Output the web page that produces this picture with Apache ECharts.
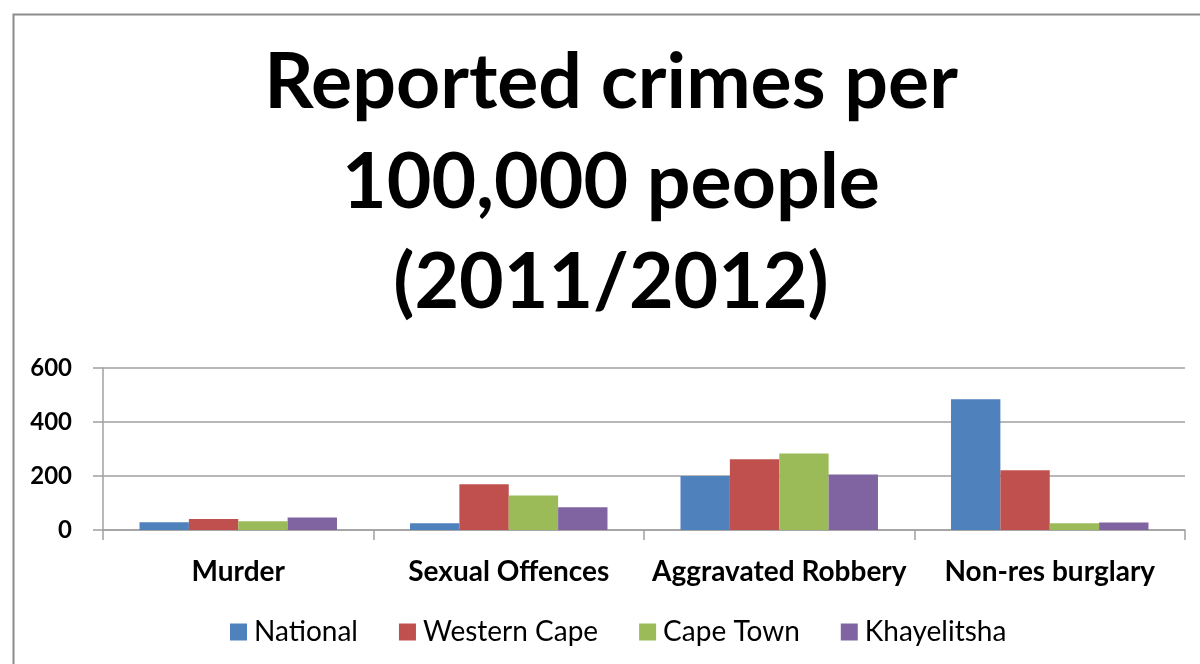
<!DOCTYPE html>
<html>
<head>
<meta charset="utf-8">
<script src="https://cdn.jsdelivr.net/npm/echarts@6/dist/echarts.min.js"></script>
<style>
html,body{margin:0;padding:0;background:#fff;}
#chart{width:1200px;height:664px;}
</style>
</head>
<body>
<div id="chart"></div>
<script>
const categories = ['Murder', 'Sexual Offences', 'Aggravated Robbery', 'Non-res burglary'];
const seriesNames = ['National', 'Western Cape', 'Cape Town', 'Khayelitsha'];
const national = [29, 25, 200, 484];
const westernCape = [41, 169, 262, 221];
const capeTown = [32, 128, 283, 25];
const khayelitsha = [46, 84, 206, 28];
const yTicks = [0, 200, 400, 600];

const colors = ['#4F81BD', '#C0504D', '#9BBB59', '#8064A2'];
const values = [national, westernCape, capeTown, khayelitsha];
const FONT = 'Lato';

const chart = echarts.init(document.getElementById('chart'));
chart.setOption({
  animation: false,
  backgroundColor: '#fff',
  graphic: [{
    type: 'rect', left: 11, top: 12,
    shape: {width: 1300, height: 700},
    style: {fill: 'none', stroke: '#8C8C8C', lineWidth: 2},
    silent: true, z: -10
  }],
  title: {
    text: 'Reported crimes per\n100,000 people\n(2011/2012)',
    left: 606, top: 28, textAlign: 'center',
    textStyle: {fontFamily: FONT, fontWeight: 'bold', fontSize: 77, lineHeight: 100, color: '#000'}
  },
  legend: {
    data: seriesNames,
    left: 225, top: 613,
    itemWidth: 17, itemHeight: 17, itemGap: 41,
    icon: 'rect',
    textStyle: {fontFamily: FONT, fontSize: 28, color: '#000', padding: [0, 0, 0, 2]}
  },
  grid: {left: 103, right: 15, top: 368, bottom: 134, containLabel: false},
  xAxis: {
    type: 'category', data: categories,
    axisLine: {show: true, lineStyle: {color: '#A0A0A0', width: 1.5}},
    axisTick: {show: true, length: 10, lineStyle: {color: '#A0A0A0', width: 1.5}},
    axisLabel: {fontFamily: FONT, fontWeight: 'bold', fontSize: 28, color: '#000', margin: 28, interval: 0}
  },
  yAxis: {
    type: 'value', min: 0, max: 600, interval: 200,
    axisLine: {show: true, lineStyle: {color: '#A0A0A0', width: 1.5}},
    axisTick: {show: true, length: 10, lineStyle: {color: '#A0A0A0', width: 1.5}},
    splitLine: {show: true, lineStyle: {color: '#A0A0A0', width: 1.5}},
    axisLabel: {fontFamily: FONT, fontWeight: 'bold', fontSize: 24, color: '#000', margin: 31,
      formatter: v => yTicks.includes(v) ? String(v) : ''}
  },
  series: seriesNames.map((name, i) => ({
    name, type: 'bar', data: values[i],
    barGap: '0%', barCategoryGap: '27%',
    itemStyle: {color: colors[i]}
  }))
});
</script>
</body>
</html>
